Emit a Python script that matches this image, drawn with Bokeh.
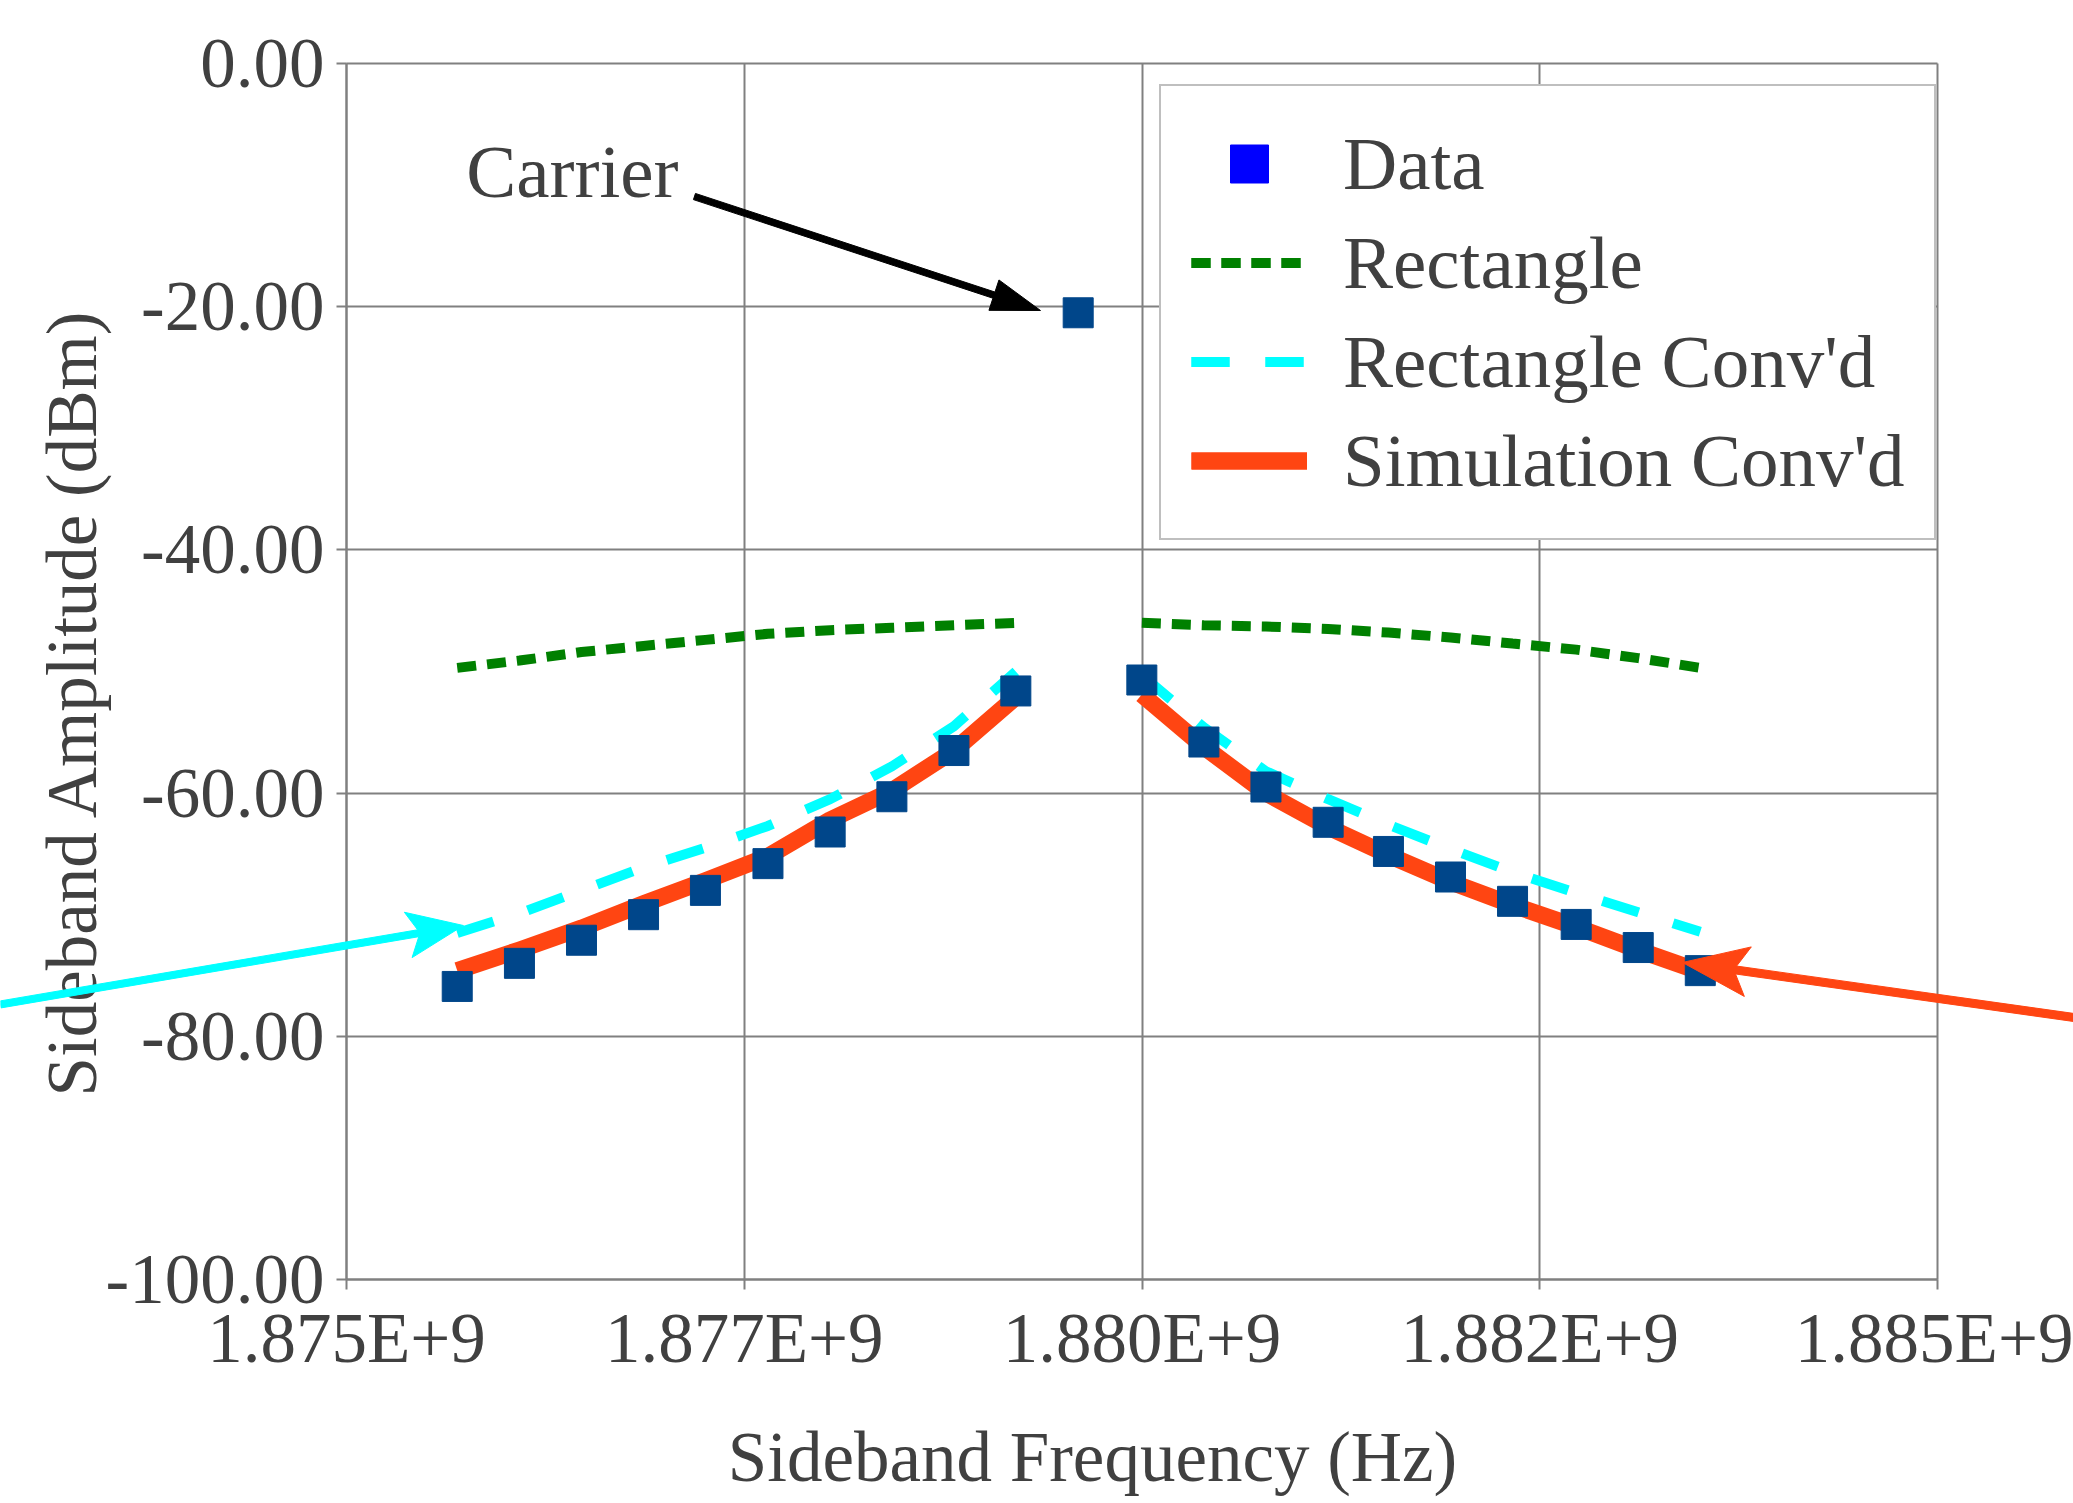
import math
from bokeh.plotting import figure
from bokeh.models import (FixedTicker, PrintfTickFormatter, Legend, LegendItem,
                          PolyAnnotation, Label, Range1d, LinearAxis, Grid)
from bokeh.embed import file_html
from bokeh.resources import INLINE

# ---------------- data ----------------
lower_freq = [1.875696e9, 1.876087e9, 1.876477e9, 1.876867e9, 1.877256e9,
              1.877649e9, 1.878040e9, 1.878428e9, 1.878818e9, 1.879207e9]
carrier_freq = [1.879599e9]
upper_freq = [1.879999e9, 1.880389e9, 1.880779e9, 1.881170e9, 1.881549e9,
              1.881939e9, 1.882329e9, 1.882729e9, 1.883119e9, 1.883509e9]

data_lower = [-75.9, -74.0, -72.1, -70.0, -68.0, -65.8, -63.2, -60.3, -56.5, -51.6]
data_carrier = [-20.5]
data_upper = [-50.7, -55.8, -59.5, -62.4, -64.8, -66.9, -68.9, -70.8, -72.7, -74.6]

rect_lower = [-49.7, -49.1, -48.4, -47.9, -47.4, -46.9, -46.6, -46.4, -46.2, -46.0]
rect_upper = [-46.0, -46.2, -46.3, -46.5, -46.8, -47.2, -47.7, -48.2, -48.9, -49.7]

rconv_lower = [-71.5, -69.9, -68.0, -66.1, -64.5, -62.7, -60.5, -57.8, -54.5, -50.0]
rconv_upper = [-50.3, -54.6, -58.2, -60.5, -62.6, -64.6, -66.5, -68.2, -69.8, -71.4]

sim_lower = [-74.6, -72.9, -71.1, -69.1, -67.2, -65.2, -62.2, -59.8, -56.5, -52.1]
sim_upper = [-51.9, -56.2, -60.0, -62.8, -65.1, -67.3, -69.2, -71.0, -72.9, -74.7]

x_ticks = [1.875e9, 1.8775e9, 1.880e9, 1.8825e9, 1.885e9]
x_tick_labels = ["1.875E+9", "1.877E+9", "1.880E+9", "1.882E+9", "1.885E+9"]
y_ticks = [-100, -80, -60, -40, -20, 0]

series_names = ["Data", "Rectangle", "Rectangle Conv'd", "Simulation Conv'd"]
x_title = "Sideband Frequency (Hz)"
y_title = "Sideband Amplitude (dBm)"

# annotation anchor points (data units): start x, start y, tip x, tip y
carrier_text = "Carrier"
carrier_label_pos = (1.875752e9, -8.9)
carrier_arrow = (1.877187e9, -10.94, 1.879362e9, -20.31)
cyan_arrow = (1.872825e9, -77.38, 1.875735e9, -70.89)
red_arrow = (1.885855e9, -78.45, 1.883397e9, -73.93)

# ---------------- geometry ----------------
PLOT_X = (1.875e9, 1.885e9)
PLOT_Y = (-100.0, 0.0)
CANVAS_W, CANVAS_H = 2073, 1503
PLOT_LEFT, PLOT_TOP, PLOT_W, PLOT_H = 346, 63, 1591, 1216
KX = PLOT_W / (PLOT_X[1] - PLOT_X[0])   # px per Hz
KY = PLOT_H / (PLOT_Y[1] - PLOT_Y[0])   # px per dB
X_RANGE = (PLOT_X[0] - PLOT_LEFT / KX, PLOT_X[0] + (CANVAS_W - PLOT_LEFT) / KX)
Y_RANGE = (PLOT_Y[0] - (CANVAS_H - PLOT_TOP - PLOT_H) / KY, PLOT_Y[1] + PLOT_TOP / KY)

FONT = "Liberation Serif"
TXT = "#404040"
GRID = "#808080"
MARK = "#00468A"
GREEN = "#008000"
CYAN = "#00FFFF"
RED = "#FF4512"

p = figure(width=CANVAS_W, height=CANVAS_H, frame_width=CANVAS_W, frame_height=CANVAS_H,
           x_range=Range1d(*X_RANGE), y_range=Range1d(*Y_RANGE),
           output_backend="svg", toolbar_location=None,
           min_border=0, min_border_left=0, min_border_right=0,
           min_border_top=0, min_border_bottom=0,
           background_fill_color="white", border_fill_color="white")
p.outline_line_color = None

# ---------------- axes (drawn at the plot-area edges) ----------------
xa, ya = p.xaxis[0], p.yaxis[0]
xa.fixed_location = PLOT_Y[0]
ya.fixed_location = PLOT_X[0]
xa.bounds = PLOT_X
ya.bounds = PLOT_Y
for ax in (xa, ya):
    ax.axis_line_color = GRID
    ax.axis_line_width = 2
    ax.major_tick_line_color = GRID
    ax.major_tick_line_width = 2
    ax.major_tick_in = 0
    ax.major_tick_out = 10
    ax.minor_tick_line_color = None
    ax.major_label_text_font = FONT
    ax.major_label_text_font_size = "71px"
    ax.major_label_text_color = TXT
xa.ticker = FixedTicker(ticks=x_ticks)
xa.major_label_overrides = dict(zip(x_ticks, x_tick_labels))
xa.major_label_standoff = 9
ya.ticker = FixedTicker(ticks=y_ticks)
ya.formatter = PrintfTickFormatter(format="%.2f")
ya.major_label_standoff = 12


def title_axis(bounds, loc, label, standoff):
    a = LinearAxis(fixed_location=loc, bounds=bounds, ticker=FixedTicker(ticks=[]),
                   axis_label=label, axis_line_color=None, major_tick_line_color=None,
                   minor_tick_line_color=None, major_tick_out=0, major_tick_in=0,
                   major_label_standoff=0, axis_label_standoff=standoff,
                   axis_label_text_font=FONT, axis_label_text_font_size="71px",
                   axis_label_text_font_style="normal", axis_label_text_color=TXT)
    return a


p.add_layout(title_axis((PLOT_X[0], 1.884378e9), PLOT_Y[0], x_title, 138), "below")
p.add_layout(title_axis((-105.0, PLOT_Y[1]), PLOT_X[0], y_title, 236), "left")

# ---------------- grid limited to the plot area ----------------
if "cross_bounds" in Grid.properties():
    p.xgrid.ticker = FixedTicker(ticks=x_ticks)
    p.ygrid.ticker = FixedTicker(ticks=y_ticks)
    p.xgrid.bounds = PLOT_X
    p.ygrid.bounds = PLOT_Y
    p.xgrid.cross_bounds = PLOT_Y
    p.ygrid.cross_bounds = PLOT_X
    p.grid.grid_line_color = GRID
    p.grid.grid_line_width = 2
else:
    p.grid.grid_line_color = None
    p.segment(x0=x_ticks, y0=[PLOT_Y[0]] * len(x_ticks), x1=x_ticks,
              y1=[PLOT_Y[1]] * len(x_ticks), line_color=GRID, line_width=2)
    p.segment(x0=[PLOT_X[0]] * len(y_ticks), y0=y_ticks, x1=[PLOT_X[1]] * len(y_ticks),
              y1=y_ticks, line_color=GRID, line_width=2)

# ---------------- series ----------------
g1 = p.line(lower_freq, rect_lower, line_color=GREEN, line_width=10, line_dash="19 11")
g2 = p.line(upper_freq, rect_upper, line_color=GREEN, line_width=10, line_dash="19 11")
c1 = p.line(lower_freq, rconv_lower, line_color=CYAN, line_width=10, line_dash="38 36")
c2 = p.line(upper_freq, rconv_upper, line_color=CYAN, line_width=10, line_dash="38 36")
s1 = p.line(lower_freq, sim_lower, line_color=RED, line_width=17, line_join="round")
s2 = p.line(upper_freq, sim_upper, line_color=RED, line_width=17, line_join="round")
all_freq = lower_freq + carrier_freq + upper_freq
all_data = data_lower + data_carrier + data_upper
d = p.scatter(all_freq, all_data, marker="square", size=30,
              fill_color=MARK, line_color=MARK, line_width=1)
# legend-only proxy (pure blue square, as in the reference legend)
d_leg = p.scatter([float("nan")], [float("nan")], marker="square", size=30,
                  fill_color="#0000FF", line_color="#0000FF")

legend = Legend(items=[
    LegendItem(label=series_names[0], renderers=[d_leg]),
    LegendItem(label=series_names[1], renderers=[g1, g2]),
    LegendItem(label=series_names[2], renderers=[c1, c2]),
    LegendItem(label=series_names[3], renderers=[s1, s2]),
], location=(1159, CANVAS_H - 88 - 452))
legend.label_text_font = FONT
legend.label_text_font_size = "75px"
legend.label_text_color = TXT
legend.glyph_width = 116
legend.glyph_height = 95
legend.label_height = 95
legend.label_standoff = 36
legend.spacing = 4
legend.padding = 30
legend.border_line_color = GRID
legend.border_line_width = 2
legend.background_fill_color = "white"
legend.background_fill_alpha = 1.0
p.add_layout(legend)

# ---------------- annotations ----------------


def to_px(x, y):
    return PLOT_LEFT + (x - PLOT_X[0]) * KX, PLOT_TOP + (PLOT_Y[1] - y) * KY


def to_data(sx, sy):
    return PLOT_X[0] + (sx - PLOT_LEFT) / KX, PLOT_Y[1] - (sy - PLOT_TOP) / KY


def arrow_outline(spec, shaft_w, head_len, head_w, notch):
    X0, Y0 = to_px(spec[0], spec[1])
    X1, Y1 = to_px(spec[2], spec[3])
    dx, dy = X1 - X0, Y1 - Y0
    L = math.hypot(dx, dy)
    ux, uy = dx / L, dy / L
    nx, ny = -uy, ux
    bx, by = X1 - ux * head_len, Y1 - uy * head_len
    kx, ky = bx + ux * head_len * notch, by + uy * head_len * notch
    pts = [(X0 + nx * shaft_w / 2, Y0 + ny * shaft_w / 2),
           (kx + nx * shaft_w / 2, ky + ny * shaft_w / 2),
           (bx + nx * head_w / 2, by + ny * head_w / 2),
           (X1, Y1),
           (bx - nx * head_w / 2, by - ny * head_w / 2),
           (kx - nx * shaft_w / 2, ky - ny * shaft_w / 2),
           (X0 - nx * shaft_w / 2, Y0 - ny * shaft_w / 2)]
    dp = [to_data(*q) for q in pts]
    return [q[0] for q in dp], [q[1] for q in dp]


for spec, col, sw, hl, hw, nt in [
        (carrier_arrow, "black", 6.5, 49, 32, 0.0),
        (cyan_arrow, CYAN, 7, 56, 46, 0.18),
        (red_arrow, RED, 8, 66, 50, 0.18)]:
    xs, ys = arrow_outline(spec, sw, hl, hw, nt)
    p.add_layout(PolyAnnotation(xs=xs, ys=ys, fill_color=col, fill_alpha=1.0,
                                line_color=col, line_alpha=1.0, line_width=1))

p.add_layout(Label(x=carrier_label_pos[0], y=carrier_label_pos[1], text=carrier_text,
                   text_font=FONT, text_font_size="75px", text_color=TXT,
                   text_baseline="middle"))

open("out.html", "w").write(file_html(p, INLINE))
